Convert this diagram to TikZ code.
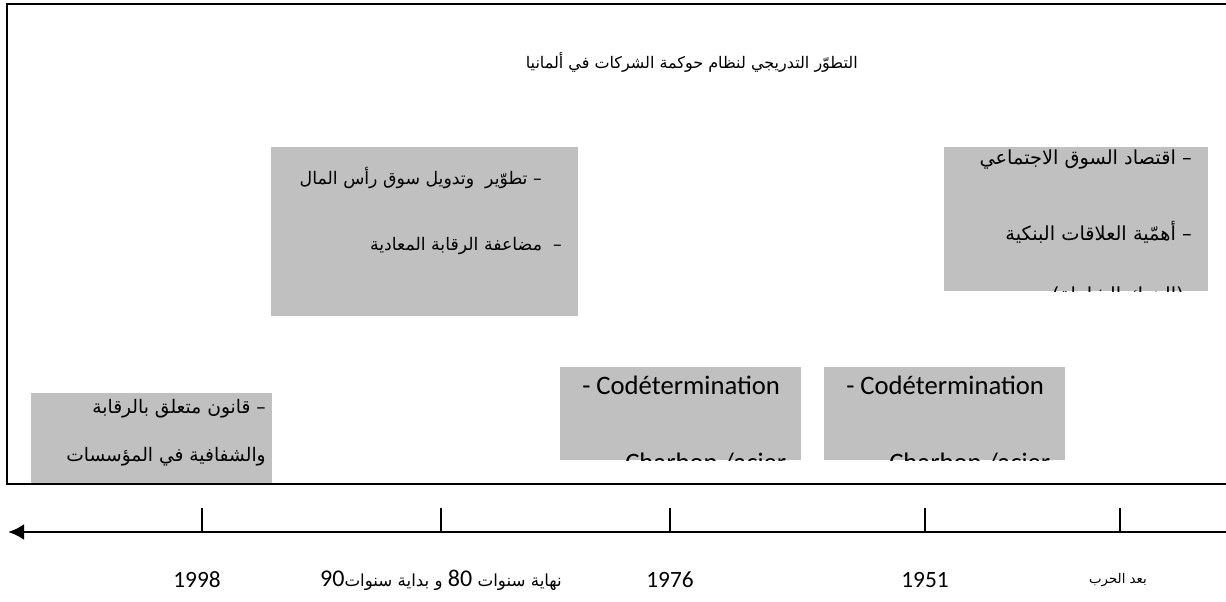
\documentclass[tikz,border=0pt]{standalone}
\usepackage{fontspec}
\setmainfont{Carlito}
\newfontfamily\arabicfont[Script=Arabic]{DejaVu Sans}
\TeXXeTstate=1
\usetikzlibrary{arrows.meta,positioning}
\definecolor{boxgray}{HTML}{C0C0C0}
\newcommand{\pxu}{0.75pt}
\newcommand{\rl}[1]{\beginR #1\endR}
\tikzstyle{note}=[fill=boxgray, inner sep=0pt, outer sep=0pt, anchor=north west]
\tikzstyle{ar}=[font=\arabicfont\fontsize{14}{16}\selectfont, inner sep=0pt, anchor=east]
\tikzstyle{lat}=[font=\fontsize{20}{24}\selectfont, inner sep=0pt, anchor=west]
\tikzstyle{year}=[font=\fontsize{17.5}{21}\selectfont, inner sep=0pt]
\tikzstyle{frame}=[line width=1.5pt]

\begin{document}
\begin{tikzpicture}[x=0.75pt,y=-0.75pt]
\useasboundingbox (0,0) rectangle (1226,601);
% grey boxes
\node [note, minimum width=241*\pxu, minimum height=91*\pxu] (a) at (31,393) {};
\node [note, minimum width=307*\pxu, minimum height=169*\pxu] (b) at (271,147) {};
\node [note, minimum width=264*\pxu, minimum height=144*\pxu] (c) at (944,147) {};
\node [note, minimum width=241*\pxu, minimum height=93*\pxu] (d) at (560,367) {};
\node [note, minimum width=241*\pxu, minimum height=93*\pxu] (e) at (824,367) {};
% title
\node [ar, font=\arabicfont\fontsize{12}{14}\selectfont] (title) at (858,62) {\rl{التطوّر التدريجي لنظام حوكمة الشركات في ألمانيا}};
% box texts
\node [ar, font=\arabicfont\fontsize{13}{15}\selectfont] (b1) at ([shift={(-36,31)}]b.north east) {\rl{– تطوّير\ \ وتدويل سوق رأس المال}};
\node [ar, font=\arabicfont\fontsize{13}{15}\selectfont] (b2) at ([shift={(-16,99)}]b.north east) {\rl{–\ \ مضاعفة الرقابة المعادية}};
\node [ar, font=\arabicfont\fontsize{14.5}{17}\selectfont] (c1) at ([shift={(-16,13)}]c.north east) {\rl{– اقتصاد السوق الاجتماعي}};
\node [ar, font=\arabicfont\fontsize{14.5}{17}\selectfont] (c2) at ([shift={(-16,85)}]c.north east) {\rl{– أهمّية العلاقات البنكية}};
\begin{scope}
  \clip (c.south west) rectangle (c.north east);
  \node [ar, anchor=base east, font=\arabicfont\fontsize{14.5}{17}\selectfont] (c3) at ([shift={(-24,154)}]c.north east) {\rl{(البنوك الشاملة)}};
\end{scope}
\node [ar] (a1) at ([shift={(-6,16)}]a.north east) {\rl{– قانون متعلق بالرقابة}};
\node [ar] (a2) at ([shift={(-6,64)}]a.north east) {\rl{والشفافية في المؤسسات}};
\node [lat] (d1) at ([shift={(22,18)}]d.north west) {- Codétermination};
\node [lat] (e1) at ([shift={(22,18)}]e.north west) {- Codétermination};
\begin{scope}
  \clip (d.south west) rectangle (d.north east);
  \node [lat, anchor=base west] (d2) at ([shift={(65,104)}]d.north west) {Charbon /acier};
\end{scope}
\begin{scope}
  \clip (e.south west) rectangle (e.north east);
  \node [lat, anchor=base west] (e2) at ([shift={(65,104)}]e.north west) {Charbon /acier};
\end{scope}
% frame
\draw [frame] (1226,4) -- (7,4) -- (7,484) -- (1226,484);
% time line
\coordinate (tR) at (1226,532);
\coordinate (tL) at (8,532);
\draw [line width=2.2pt, -{Latex[length=12pt,width=12pt]}] (tR) -- (tL);
\foreach \x/\n in {202/t1, 441/t2, 670/t3, 925/t4, 1120/t5} {
  \coordinate (\n) at (\x,532);
  \draw [line width=0.8pt] (\n) -- ++(0,-24);
}
\node [year] (y1) at (197,580) {1998};
\node [year] (y2) at (441,580) {\arabicfont\fontsize{12.5}{15}\selectfont\rl{نهاية سنوات \beginL{\rmfamily\fontsize{18}{20}\selectfont 80}\endL{} و بداية سنوات\beginL{\rmfamily\fontsize{18}{20}\selectfont 90}\endL}};
\node [year] (y3) at (670,580) {1976};
\node [year] (y4) at (925,580) {1951};
\node [year] (y5) at (1118,580) {\arabicfont\fontsize{10}{12}\selectfont\rl{بعد الحرب}};
\end{tikzpicture}
\end{document}
